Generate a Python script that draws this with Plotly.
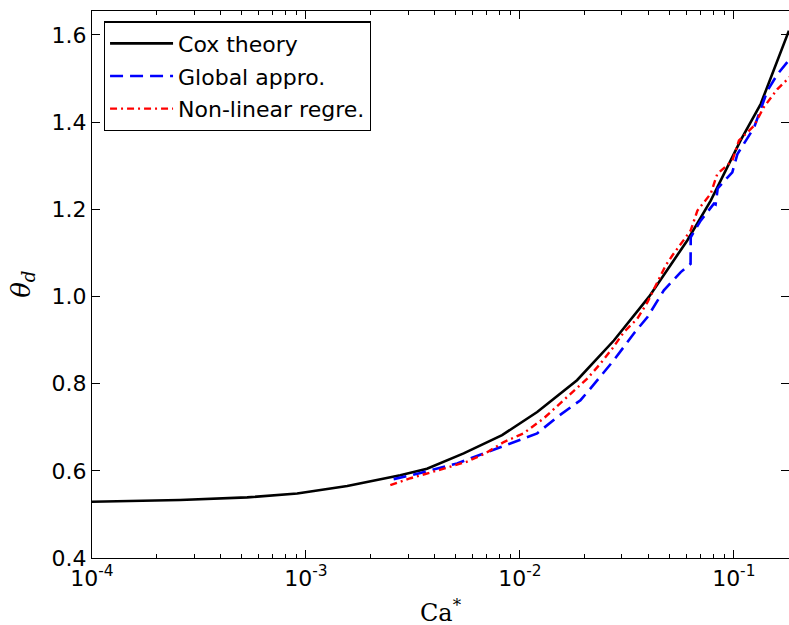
import plotly.graph_objects as go

# Cox theory (black solid)
cox_x = [1.0e-4, 2.58e-4, 5.31e-4, 9.1e-4, 1.56e-3, 2.76e-3, 3.68e-3, 5.46e-3, 8.26e-3,
         1.205e-2, 1.85e-2, 2.75e-2, 4.01e-2, 6.07e-2, 7.8e-2, 0.1076, 0.1337, 0.181]
cox_y = [0.529, 0.533, 0.539, 0.548, 0.565, 0.590, 0.605, 0.640, 0.682,
         0.735, 0.808, 0.899, 0.999, 1.129, 1.220, 1.358, 1.442, 1.610]

# Global approximation (blue dashed)
glob_x = [2.57e-3, 3.43e-3, 5.09e-3, 6.78e-3, 9.2e-3, 1.04e-2, 1.205e-2, 1.50e-2, 1.92e-2,
          2.14e-2, 2.75e-2, 3.41e-2, 3.95e-2, 4.71e-2, 5.65e-2, 6.28e-2, 6.29e-2, 7.0e-2,
          8.07e-2, 8.22e-2, 8.41e-2, 9.84e-2, 0.104, 0.1245, 0.1435, 0.16, 0.183]
glob_y = [0.581, 0.595, 0.617, 0.640, 0.663, 0.674, 0.686, 0.724, 0.762,
          0.789, 0.854, 0.915, 0.953, 1.014, 1.056, 1.075, 1.136, 1.174,
          1.213, 1.211, 1.248, 1.285, 1.327, 1.388, 1.472, 1.510, 1.545]

# Non-linear regression (red dash-dot)
nl_x = [2.48e-3, 3.08e-3, 4.41e-3, 5.66e-3, 6.90e-3, 8.41e-3, 1.04e-2, 1.29e-2, 1.60e-2,
        2.07e-2, 2.38e-2, 2.70e-2, 3.06e-2, 3.54e-2, 3.95e-2, 4.31e-2, 4.80e-2, 5.16e-2,
        6.28e-2, 6.76e-2, 7.80e-2, 8.37e-2, 9.84e-2, 0.1057, 0.1245, 0.138, 0.16, 0.183]
nl_y = [0.567, 0.583, 0.605, 0.621, 0.640, 0.666, 0.686, 0.720, 0.762,
        0.812, 0.846, 0.880, 0.918, 0.949, 0.987, 1.025, 1.071, 1.094,
        1.151, 1.197, 1.236, 1.281, 1.312, 1.358, 1.392, 1.434, 1.476, 1.504]

x_tickvals = [1e-4, 1e-3, 1e-2, 1e-1]
x_ticktext = ["10<sup>-4</sup>", "10<sup>-3</sup>", "10<sup>-2</sup>", "10<sup>-1</sup>"]
x_minor = [m * 10.0 ** e for e in (-4, -3, -2, -1) for m in range(2, 10)]
y_tickvals = [0.4, 0.6, 0.8, 1.0, 1.2, 1.4, 1.6]
y_ticktext = ["0.4", "0.6", "0.8", "1.0", "1.2", "1.4", "1.6"]

fig = go.Figure()
fig.add_trace(go.Scatter(x=cox_x, y=cox_y, mode="lines", name="Cox theory", legendgroup="a",
                         line=dict(color="black", width=2.6)))
fig.add_trace(go.Scatter(x=glob_x, y=glob_y, mode="lines", name="Global appro.", legendgroup="b",
                         line=dict(color="#0000ff", width=2.6, dash="13px,7px")))
fig.add_trace(go.Scatter(x=nl_x, y=nl_y, mode="lines", name="Non-linear regre.", legendgroup="c",
                         line=dict(color="#ff0000", width=2.4, dash="7px,4px,2px,4px")))

font_main = "DejaVu Sans"
fig.update_layout(
    width=789, height=625,
    margin=dict(l=92, r=0, t=11, b=67),
    plot_bgcolor="white", paper_bgcolor="white",
    font=dict(family=font_main, size=22, color="black"),
    showlegend=True,
    legend=dict(x=0.017, y=0.981, xanchor="left", yanchor="top",
                bgcolor="white", bordercolor="black", borderwidth=1.2,
                font=dict(family=font_main, size=22), tracegroupgap=1,
                itemwidth=63),
    xaxis=dict(type="log", range=[-4, -0.742], automargin=False,
               tickmode="array", tickvals=x_tickvals, ticktext=x_ticktext,
               ticks="inside", ticklen=8, tickwidth=1, tickcolor="black",
               minor=dict(tickmode="array", tickvals=x_minor, ticks="inside",
                          ticklen=4, tickwidth=1, tickcolor="black", showgrid=False),
               showline=True, linecolor="black", linewidth=1.3, mirror="allticks",
               showgrid=False, zeroline=False,
               tickfont=dict(family=font_main, size=22)),
    yaxis=dict(range=[0.4, 1.655], automargin=False,
               tickmode="array", tickvals=y_tickvals, ticktext=y_ticktext,
               ticks="inside", ticklen=8, tickwidth=1, tickcolor="black",
               showline=True, linecolor="black", linewidth=1.3, mirror="allticks",
               showgrid=False, zeroline=False,
               tickfont=dict(family=font_main, size=22)),
    annotations=[
        dict(text="Ca<sup>*</sup>", xref="paper", yref="paper", x=0.5, y=-0.097,
             xanchor="center", yanchor="middle", showarrow=False,
             font=dict(family="DejaVu Serif", size=24)),
        dict(text="<i>θ<sub>d</sub></i>", xref="paper", yref="paper", x=-0.1, y=0.5,
             xanchor="center", yanchor="middle", showarrow=False, textangle=-90,
             font=dict(family="DejaVu Serif", size=26)),
    ],
)

# remove the default 8px page margin so the figure fills the window exactly
fig.write_html("out.html",
               config={"displayModeBar": False},
               post_script="document.body.style.margin='0';document.body.style.overflow='hidden';")
